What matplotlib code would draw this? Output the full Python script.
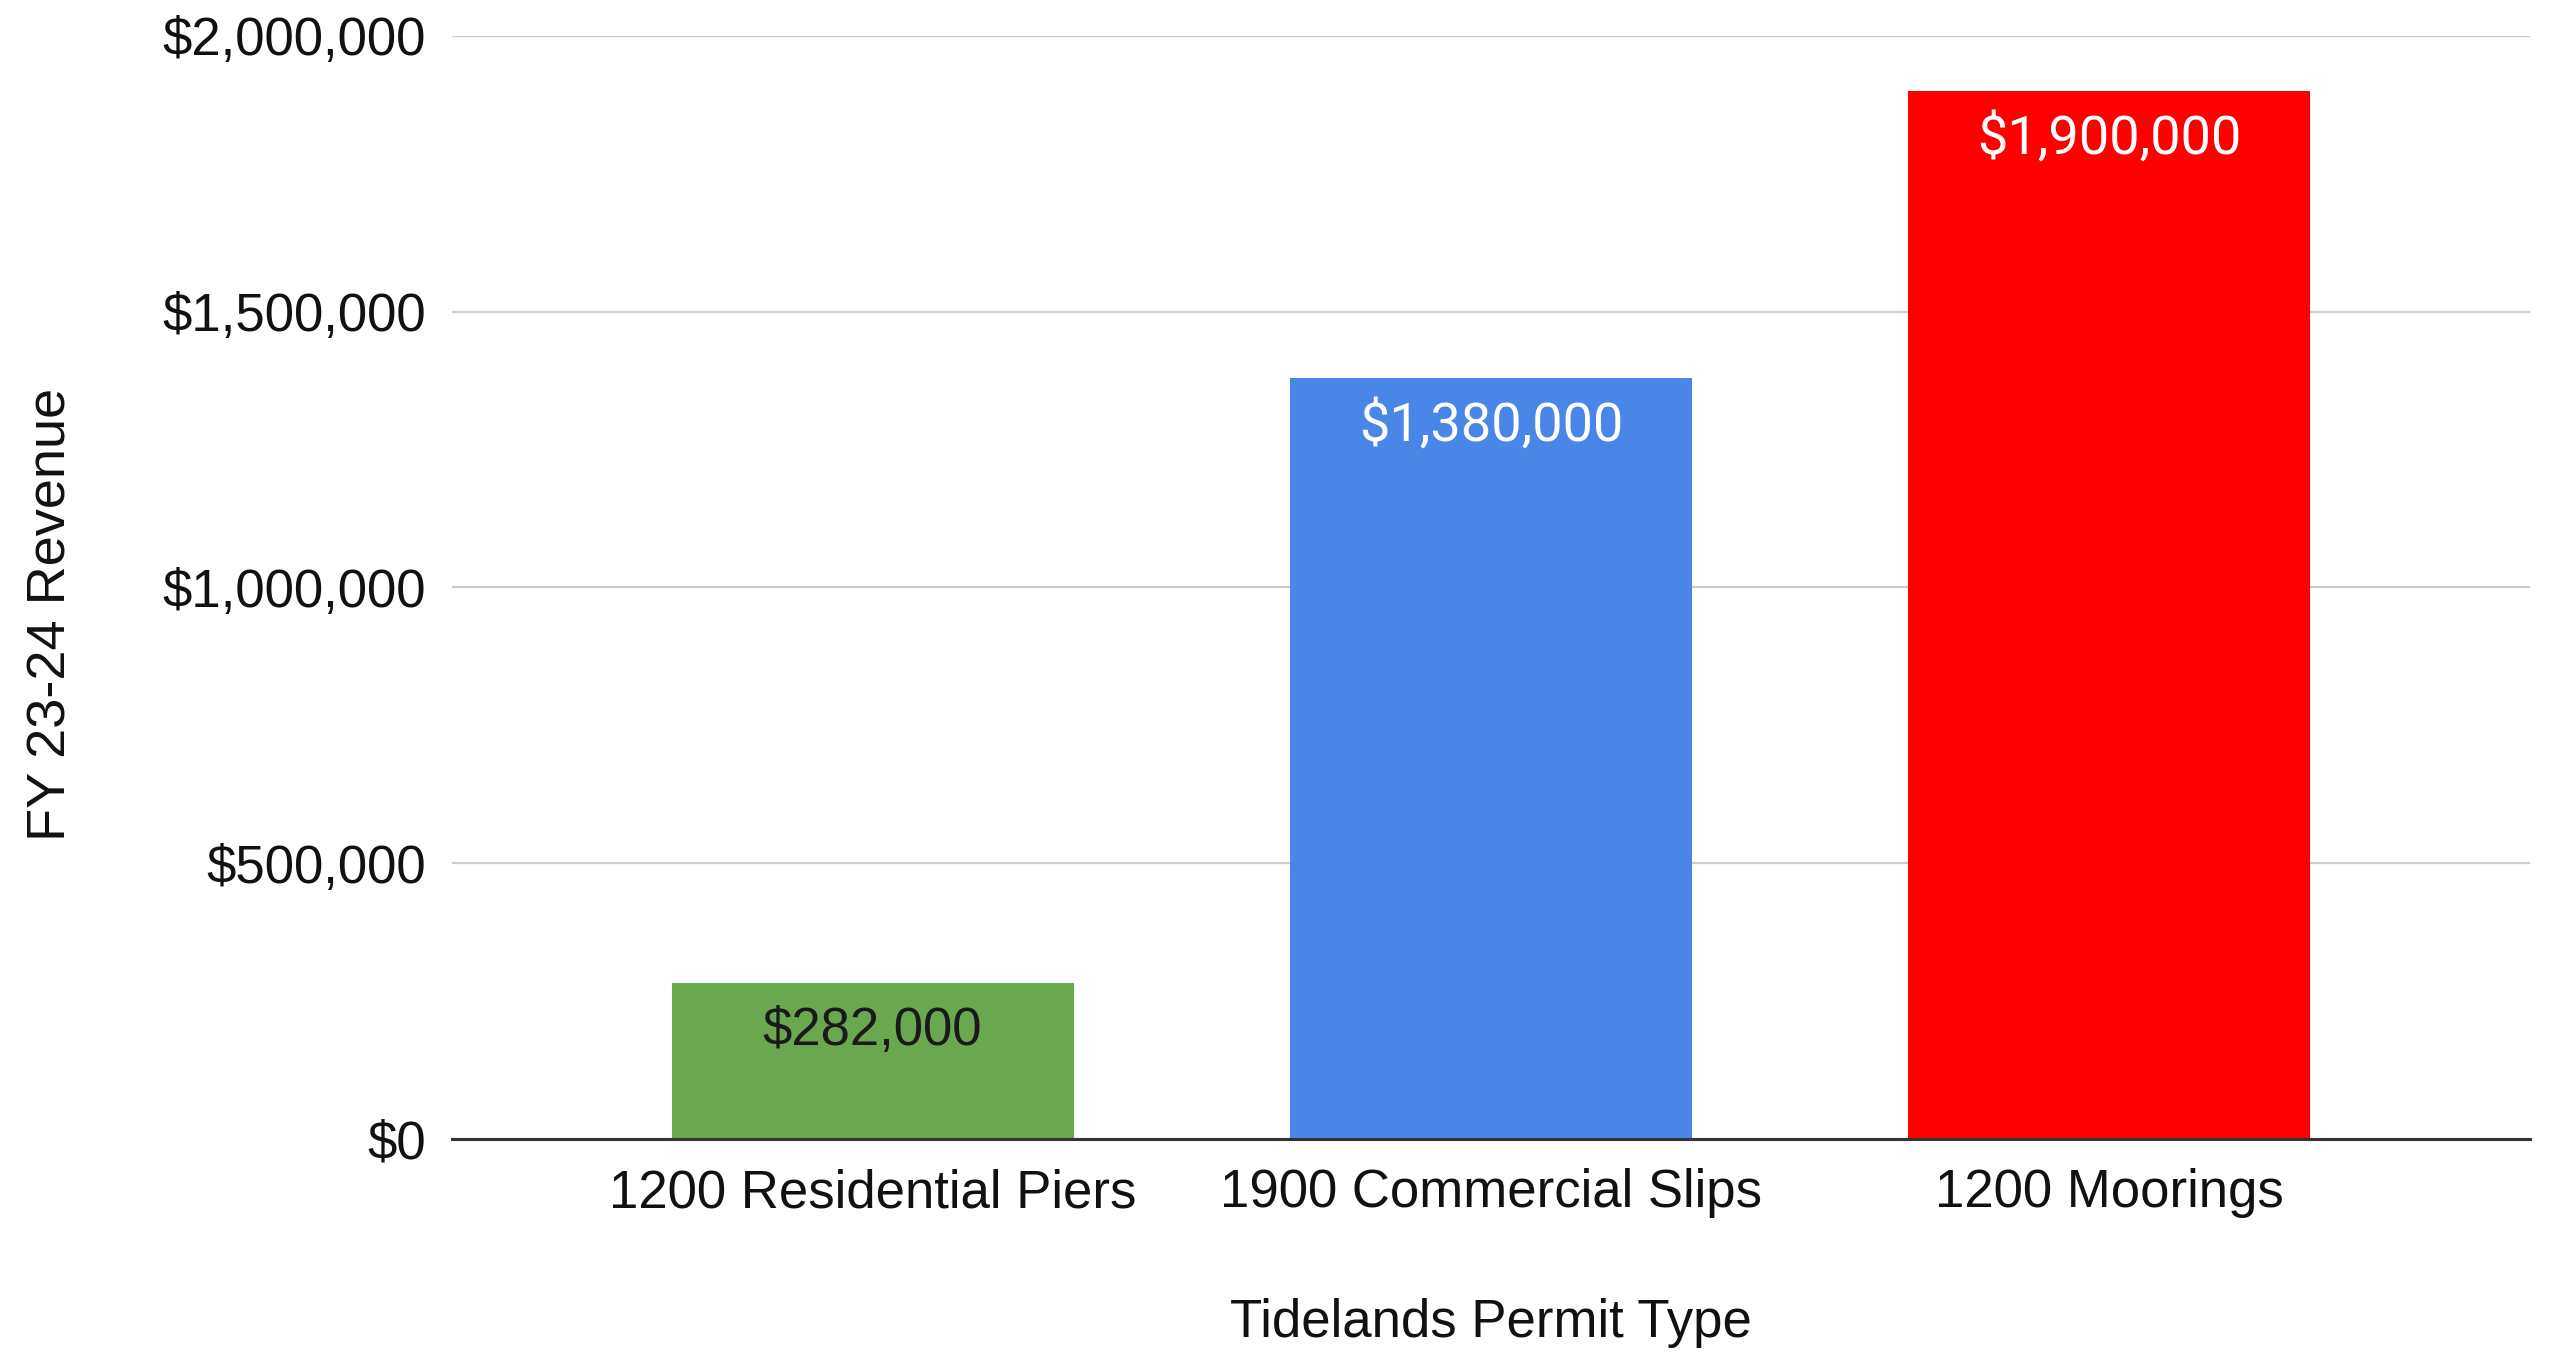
import matplotlib
matplotlib.use("Agg")
import matplotlib.pyplot as plt
from matplotlib.ticker import FuncFormatter

categories = ["1200 Residential Piers", "1900 Commercial Slips", "1200 Moorings"]
revenue = [282000, 1380000, 1900000]
bar_colors = ["#6aa84f", "#4a86e8", "#ff0000"]
label_colors = ["#1a1a1a", "#ffffff", "#ffffff"]
yticks = [0, 500000, 1000000, 1500000, 2000000]

W, H = 2551, 1352
fig = plt.figure(figsize=(W / 100, H / 100), dpi=100)
ax = fig.add_axes([452 / W, 1 - 1139 / H, (2530 - 452) / W, (1139 - 36) / H])

x = list(range(len(categories)))
bars = ax.bar(x, revenue, width=0.65, color=bar_colors, zorder=3, linewidth=0)

ax.set_xlim(-0.68, 2.68)
ax.set_ylim(0, 2000000)
ax.set_yticks(yticks)
ax.yaxis.set_major_formatter(FuncFormatter(lambda v, p: "${:,.0f}".format(v)))
ax.set_xticks(x)
ax.set_xticklabels(categories)

for s in ["top", "right", "left"]:
    ax.spines[s].set_visible(False)
ax.spines["bottom"].set_color("#333333")
ax.spines["bottom"].set_linewidth(2.2)
ax.spines["bottom"].set_zorder(4)

ax.grid(axis="y", color="#cccccc", linewidth=1.6, zorder=0)
ax.tick_params(axis="both", length=0)
ax.tick_params(axis="y", pad=19, labelsize=38, labelcolor="#111111")
ax.tick_params(axis="x", pad=21, labelsize=38, labelcolor="#111111")
for t in ax.get_xticklabels() + ax.get_yticklabels():
    t.set_family(["Liberation Sans", "DejaVu Sans"])

for i, (b, v) in enumerate(zip(bars, revenue)):
    fam = ["Liberation Sans"] if i == 0 else ["Roboto"]
    fs = 38 if i == 0 else 39
    ax.annotate("${:,.0f}".format(v), xy=(b.get_x() + b.get_width() / 2, v),
                xytext=(0, -34), textcoords="offset points",
                ha="center", va="center", fontsize=fs,
                color=label_colors[i], family=fam, zorder=5)

fig.text((452 + 2530) / 2 / W, 1 - 1323 / H, "Tidelands Permit Type",
         ha="center", va="center", fontsize=38, color="#111111",
         family=["Liberation Sans"])
fig.text(52 / W, 1 - 614 / H, "FY 23-24 Revenue", ha="center", va="center",
         rotation=90, fontsize=39, color="#111111", family=["Liberation Sans"])

fig.savefig("out.png", dpi=100, facecolor="white")
